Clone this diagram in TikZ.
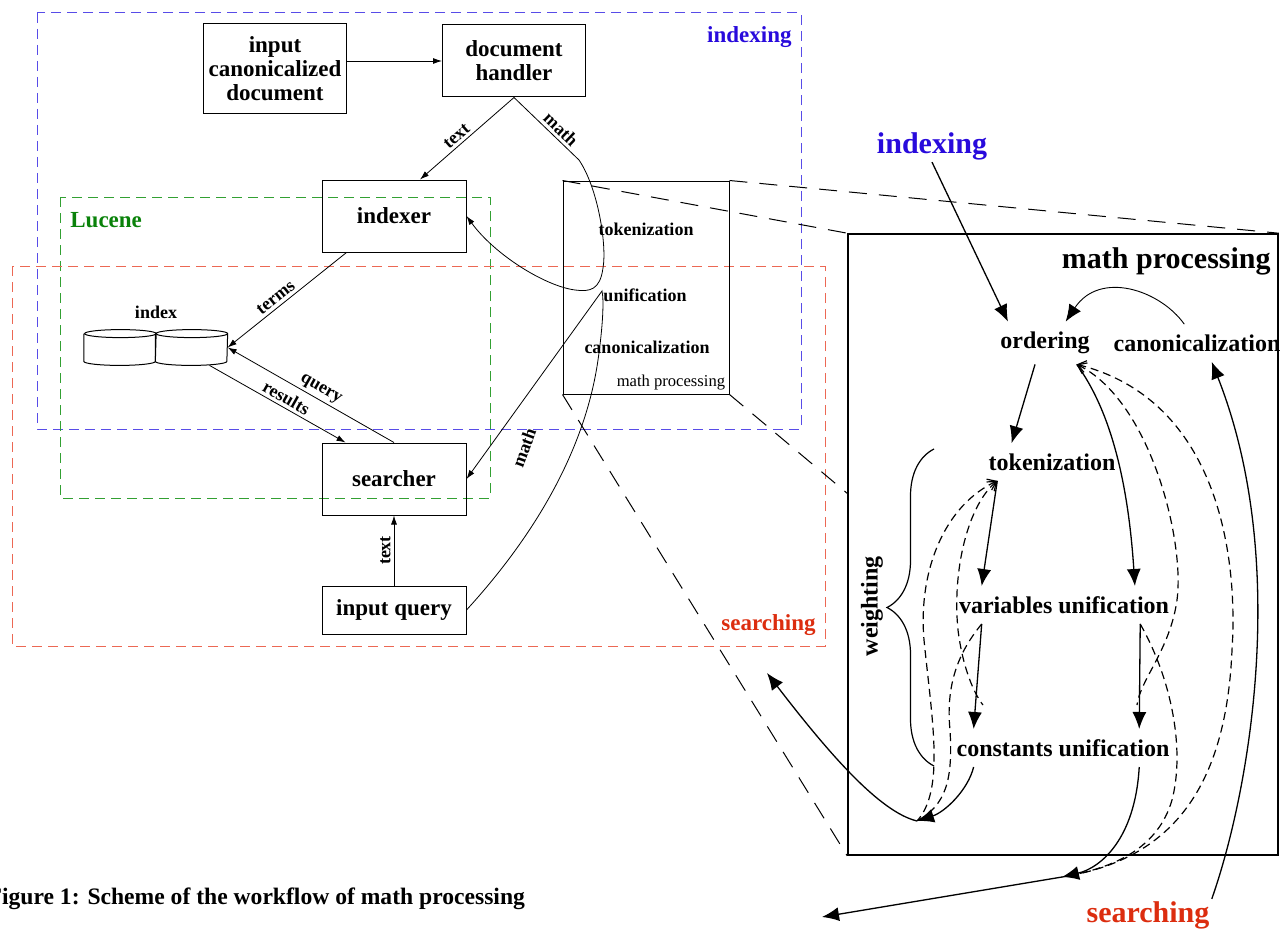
\documentclass[tikz,border=0pt]{standalone}
\usepackage{fontspec}
\setmainfont{Liberation Serif}
\usetikzlibrary{arrows.meta,decorations.pathreplacing,calc}

\definecolor{idxblue}{RGB}{88,76,232}
\definecolor{idxtext}{RGB}{40,10,220}
\definecolor{lucgreen}{RGB}{50,160,50}
\definecolor{luctext}{RGB}{10,130,10}
\definecolor{srchred}{RGB}{236,104,84}
\definecolor{srchtext}{RGB}{220,45,15}

\tikzset{
  box/.style={draw, line width=0.5pt, align=center, inner sep=0pt,
    font=\fontsize{11.5}{12}\selectfont\bfseries},
  lbl/.style={font=\fontsize{9}{10}\selectfont\bfseries, inner sep=1.5pt},
  grouplbl/.style={font=\fontsize{11.5}{12}\selectfont\bfseries, inner sep=0pt},
  biglbl/.style={font=\fontsize{15}{16}\selectfont\bfseries, inner sep=1pt},
  dbnode/.style={minimum width=35.75pt, minimum height=17.5pt, inner sep=0pt},
  groupframe/.style={dash pattern=on 5pt off 3pt, line width=0.5pt},
  zoomline/.style={dash pattern=on 9pt off 6pt, line width=0.5pt},
  thinarr/.style={-{Latex[length=4.5pt,width=3pt]}, line width=0.4pt},
  mpnode/.style={font=\fontsize{12}{13}\selectfont\bfseries, inner sep=5pt},
  bigarr/.style={-{Latex[length=8.5pt,width=7pt]}, line width=0.65pt},
  dasharr/.style={dash pattern=on 4pt off 2.5pt, line width=0.6pt},
  backtip/.style={{Straight Barb[length=4pt,width=6pt]}-},
}

\begin{document}
\begin{tikzpicture}[x=0.5pt,y=-0.5pt]
  \useasboundingbox (0,0) rectangle (1280,931);

  % groups
  \draw[groupframe, idxblue]  (37,13)  rectangle (801,429);
  \draw[groupframe, lucgreen] (60,197) rectangle (490,498);
  \draw[groupframe, srchred]  (12,266) rectangle (825,646);
  \node[grouplbl, text=idxtext, anchor=east]  (idxlbl)  at (792,37)  {indexing};
  \node[grouplbl, text=luctext, anchor=west]  (luclbl)  at (70,220)  {Lucene};
  \node[grouplbl, text=srchtext, anchor=east] (srchlbl) at (816,625) {searching};

  % left part
  \node[box, minimum width=71.5pt, minimum height=45pt] (inp) at (275,69) {input\\canonicalized\\document};
  \node[box, minimum width=71.5pt, minimum height=36pt] (dh) at (514,61) {document\\handler};
  \node[box, minimum width=72pt, minimum height=36pt] (ix) at (394,216) {indexer};
  \node[box, minimum width=72pt, minimum height=36pt] (sr) at (394,479) {searcher};
  \node[box, minimum width=72pt, minimum height=24pt] (iq) at (394,610) {input query};

  \node[dbnode] (db1) at (120,347.5) {};
  \node[dbnode] (db2) at (191.5,347.5) {};
  \draw[line width=0.5pt] ([yshift=-2pt]db1.north west) -- ([yshift=2pt]db1.south west)
    arc[start angle=180, end angle=360, x radius=17.875pt, y radius=2pt]
    -- ([yshift=-2pt]db1.north east)
    arc[start angle=0, end angle=360, x radius=17.875pt, y radius=2pt];
  \draw[line width=0.5pt] ([yshift=-2pt]db2.north west) -- ([yshift=2pt]db2.south west)
    arc[start angle=180, end angle=360, x radius=17.875pt, y radius=2pt]
    -- ([yshift=-2pt]db2.north east)
    arc[start angle=0, end angle=360, x radius=17.875pt, y radius=2pt];
  \node[lbl] (dbname) at (156,312) {index};

  \node[draw, line width=0.5pt, minimum width=83pt, minimum height=106.5pt, inner sep=0pt] (mpbox) at (646,287.5) {};
  \node[lbl] (stok) at (646,229) {tokenization};
  \node[lbl] (suni) at (645,295) {unification};
  \node[lbl] (scan) at (647,347) {canonicalization};
  \node[font=\fontsize{8.3}{9}\selectfont, anchor=south east, inner sep=2pt] (smp) at (mpbox.south east) {math processing};

  \draw[thinarr] (inp.east |- dh.west) -- (dh.west);
  \draw[thinarr] (dh.south) -- node[lbl, sloped, above, pos=0.55] {text} ([xshift=13pt]ix.north);
  \draw[thinarr] (dh.south) -- node[lbl, sloped, above, pos=0.62] {math} (579,160)
    .. controls (598,188) and (607,245) .. (603,268)
    .. controls (600,290) and (590,292) .. (575,290)
    .. controls (545,286) and (495,255) .. (ix.east);
  \draw[thinarr] ([xshift=12.5pt]ix.south west) -- node[lbl, sloped, above, pos=0.55] {terms} (db2.east);
  \draw[thinarr] (sr.north) -- node[lbl, sloped, above, pos=0.47] {query} (db2.east);
  \draw[thinarr] ([xshift=9pt]db2.south) -- node[lbl, sloped, above, pos=0.53] {results} ([xshift=12pt]sr.north west);
  \draw[thinarr] (iq.north) -- node[lbl, sloped, above] {text} (sr.south);
  \draw[thinarr] (iq.east) .. controls (535,535) and (585,450) .. (598,360)
    .. controls (603,325) and (604,300) .. (602,291) -- (sr.east);
  \node[lbl, rotate=70] (mlow) at (524,448) {math};

  % right part
  \node[draw, line width=0.8pt, minimum width=215pt, minimum height=310.5pt, inner sep=0pt] (bigmp) at (1063,544.5) {};
  \draw[zoomline] (mpbox.north west) -- (bigmp.north west);
  \draw[zoomline] (mpbox.north east) -- (bigmp.north east);
  \draw[zoomline] (mpbox.south west) -- (bigmp.south west);
  \draw[zoomline] (mpbox.south east) -- (intersection of mpbox.south east--bigmp.south east and bigmp.north west--bigmp.south west);

  \node[biglbl, anchor=east] (mptitle) at (1273,261) {math processing};
  \node[biglbl, text=idxtext] (idx2) at (932,146) {indexing};
  \node[biglbl, text=srchtext] (srch2) at (1148,915) {searching};
  \node[mpnode] (ord) at (1045,343) {ordering};
  \node[mpnode] (can) at (1197,343) {canonicalization};
  \node[mpnode] (tok) at (1052,462) {tokenization};
  \node[mpnode] (var) at (1064,605) {variables unification};
  \node[mpnode] (con) at (1063,748) {constants unification};
  \node[mpnode, rotate=90] (wgt) at (872,606) {weighting};
  \coordinate (rj) at (1062,877);
  \coordinate (rout) at (822,917);
  \coordinate (lj) at (917,821);
  \coordinate (lout) at (767,673);

  \draw[bigarr] (idx2.south) -- (ord.150);
  \draw[bigarr, line width=0.45pt] (can.124) .. controls (1160,290) and (1100,270) .. (ord.46);
  \draw[bigarr] (ord.-115) -- (tok.155);
  \draw[bigarr] (tok.-161) -- (var.167);
  \draw[bigarr] (var.-167) -- (con.168);
  \draw[bigarr] (ord.-34) .. controls (1110,410) and (1128,480) .. (var.15);
  \draw[bigarr] (var.-14) -- (con.14);
  \draw[bigarr] (con.-14) .. controls (1135,840) and (1100,868) .. (rj);
  \draw[bigarr] (rj) -- (rout);
  \draw[bigarr] (con.-168) .. controls (968,790) and (945,812) .. (lj);
  \draw[bigarr] (lj) .. controls (880,812) and (830,755) .. (lout);
  \draw[bigarr] (srch2.north east) .. controls (1250,790) and (1290,560) .. (can.-52);

  \draw[dasharr, backtip] (ord.-34) .. controls (1150,400) and (1185,540) .. (1177,600)
    .. controls (1170,650) and (1140,680) .. ($(con.north)+(74,-24)$);
  \draw[dasharr, backtip] (ord.-34) .. controls (1220,400) and (1238,560) .. (1232,650)
    .. controls (1226,790) and (1170,860) .. (rj);
  \draw[dasharr] (var.-14) .. controls (1172,680) and (1185,750) .. (1172,800)
    .. controls (1158,848) and (1115,868) .. (rj);
  \draw[dasharr, backtip] (tok.-161) .. controls (968,505) and (952,570) .. (958,630)
    .. controls (963,670) and (975,695) .. ($(con.north)+(-80,-24)$);
  \draw[dasharr, backtip] (tok.-161) .. controls (945,505) and (918,570) .. (924,640)
    .. controls (932,720) and (945,790) .. (lj);
  \draw[dasharr] (var.-167) .. controls (962,648) and (945,680) .. (950,730)
    .. controls (953,780) and (946,805) .. (lj);

  \draw[line width=0.6pt, decorate, decoration={brace, amplitude=23.5pt}] (934,766) -- (934,449);

  \node[font=\fontsize{11.8}{13}\selectfont\bfseries, anchor=east] (cap) at (532,899) {Figure 1: Scheme of the workflow of math processing};
\end{tikzpicture}
\end{document}
